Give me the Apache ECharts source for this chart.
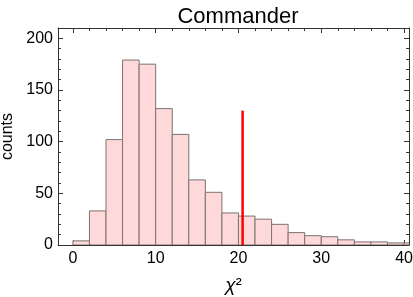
<!DOCTYPE html>
<html>
<head>
<meta charset="utf-8">
<script src="https://cdn.jsdelivr.net/npm/echarts@6/dist/echarts.min.js"></script>
<style>html,body{margin:0;padding:0;background:#fff}#c{width:413px;height:297px}</style>
</head>
<body>
<div id="c"></div>
<script>
// ---- data ----
const binStarts = [0,2,4,6,8,10,12,14,16,18,20,22,24,26,28,30,32,34,36,38,40];
const binWidth = 2;
const counts = [4,33,102,179,175,132,107,63,51,31,28,25,20,12,9,8,5,3,3,2,2];
const observedValue = 20.5;
const observedHeight = 130;
const xMajorTicks = [0,10,20,30,40];
const xMinorTicks = [2,4,6,8,12,14,16,18,22,24,26,28,32,34,36,38];
const yMajorTicks = [0,50,100,150,200];
const yMinorTicks = [10,20,30,40,60,70,80,90,110,120,130,140,160,170,180,190];
const titleText = 'Commander';
const yName = 'counts';

const XMIN = -1.8, XMAX = 40.6, YMIN = 0, YMAX = 210;
const frameColor = '#333';
const font = 'Liberation Sans, Arial, sans-serif';

const histData = binStarts.map((s, i) => [s, s + binWidth, counts[i]]);

function xAx(pos, ticks, len, labels, line) {
  return {
    type: 'value', position: pos, min: XMIN, max: XMAX,
    axisLine: {show: line, onZero: false, lineStyle: {color: frameColor, width: 1}},
    axisTick: {show: true, inside: true, length: len, customValues: ticks, lineStyle: {color: frameColor, width: 1}},
    axisLabel: labels ? {show: true, customValues: ticks, color: '#000', fontSize: 16, fontFamily: font, margin: 6} : {show: false},
    splitLine: {show: false}
  };
}
function yAx(pos, ticks, len, labels, line) {
  return {
    type: 'value', position: pos, min: YMIN, max: YMAX,
    axisLine: {show: line, onZero: false, lineStyle: {color: frameColor, width: 1}},
    axisTick: {show: true, inside: true, length: len, customValues: ticks, lineStyle: {color: frameColor, width: 1}},
    axisLabel: labels ? {show: true, customValues: ticks, color: '#000', fontSize: 16, fontFamily: font, margin: 5} : {show: false},
    splitLine: {show: false}
  };
}

const xAxes = [
  xAx('bottom', xMajorTicks, 5, true, true),
  xAx('bottom', xMinorTicks, 3, false, false),
  xAx('top', xMajorTicks, 5, false, true),
  xAx('top', xMinorTicks, 3, false, false)
];
xAxes[0].name = '{i|χ}{s|²}';
xAxes[0].nameLocation = 'middle';
xAxes[0].nameGap = 31;
xAxes[0].nameTextStyle = {rich: {
  i: {fontSize: 19, fontStyle: 'italic', fontFamily: font, color: '#000'},
  s: {fontSize: 18, fontFamily: font, color: '#000'}
}};
const yAxes = [
  yAx('left', yMajorTicks, 5, true, true),
  yAx('left', yMinorTicks, 3, false, false),
  yAx('right', yMajorTicks, 5, false, true),
  yAx('right', yMinorTicks, 3, false, false)
];
yAxes[0].name = yName;
yAxes[0].nameLocation = 'middle';
yAxes[0].nameGap = 40;
yAxes[0].nameTextStyle = {fontSize: 16, fontFamily: font, color: '#000'};

const chart = echarts.init(document.getElementById('c'), null, {renderer: 'canvas'});
chart.setOption({
  animation: false,
  backgroundColor: '#fff',
  title: {text: titleText, left: 233, textAlign: 'center', top: 1,
    textStyle: {fontSize: 22, fontWeight: 'normal', fontFamily: font, color: '#000'}},
  grid: {left: 58, right: 4, top: 28, bottom: 52, containLabel: false, outerBoundsMode: 'none'},
  xAxis: xAxes,
  yAxis: yAxes,
  series: [
    {
      type: 'custom', name: 'hist', xAxisIndex: 0, yAxisIndex: 0, clip: true,
      encode: {x: [0, 1], y: 2},
      data: histData,
      renderItem: function (params, api) {
        const p0 = api.coord([api.value(0), api.value(2)]);
        const p1 = api.coord([api.value(1), 0]);
        return {
          type: 'rect',
          shape: {x: p0[0], y: p0[1], width: p1[0] - p0[0], height: p1[1] - p0[1]},
          style: {fill: '#ffd9d9', stroke: '#7d7272', lineWidth: 1}
        };
      }
    },
    {
      type: 'custom', name: 'obs', xAxisIndex: 0, yAxisIndex: 0, clip: true,
      encode: {x: 0, y: 1},
      data: [[observedValue, observedHeight]],
      renderItem: function (params, api) {
        const a = api.coord([api.value(0), 0]);
        const b = api.coord([api.value(0), api.value(1)]);
        return {type: 'line', shape: {x1: a[0], y1: a[1], x2: b[0], y2: b[1]},
          style: {stroke: '#ff0000', lineWidth: 2.5}};
      }
    }
  ]
});
</script>
</body>
</html>
